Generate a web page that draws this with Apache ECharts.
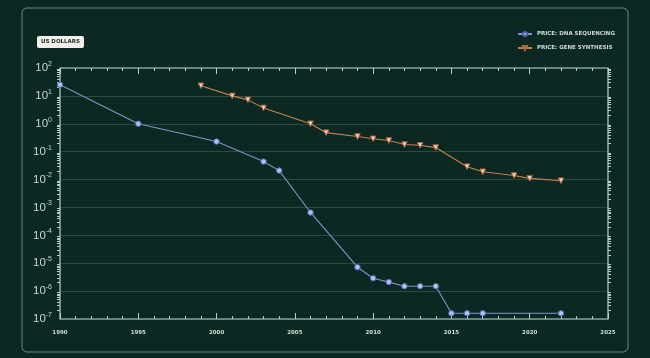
<!DOCTYPE html>
<html><head><meta charset="utf-8">
<script src="https://cdn.jsdelivr.net/npm/echarts@6/dist/echarts.min.js"></script>
<style>html,body{margin:0;padding:0;background:#0b2922;}#c{width:650px;height:358px;}</style>
</head><body><div id="c"></div>
<script>
const dnaYears = [1990, 1995, 2000, 2003, 2004, 2006, 2009, 2010, 2011, 2012, 2013, 2014, 2015, 2016, 2017, 2022];
const dnaPrice = [25, 1.0, 0.23, 0.044, 0.021, 0.00066, 0.0000072, 0.0000029, 0.0000021, 0.0000015, 0.0000015, 0.0000015, 0.00000016, 0.00000016, 0.00000016, 0.00000016];
const geneYears = [1999, 2001, 2002, 2003, 2006, 2007, 2009, 2010, 2011, 2012, 2013, 2014, 2016, 2017, 2019, 2020, 2022];
const genePrice = [23, 10, 7.2, 3.7, 1.0, 0.48, 0.35, 0.29, 0.25, 0.18, 0.17, 0.14, 0.029, 0.019, 0.014, 0.011, 0.0091];
const xTicks = [1990, 1995, 2000, 2005, 2010, 2015, 2020, 2025];
const seriesNames = ['PRICE: DNA SEQUENCING', 'PRICE: GENE SYNTHESIS'];
const unitLabel = 'US DOLLARS';

function expLabel(v){
  const e = Math.round(Math.log10(v));
  return '{b|10}{s|' + String(e) + '}';
}
const axisCol = '#b9cfc4';
const gridCol = 'rgba(110,170,150,0.28)';
const chart = echarts.init(document.getElementById('c'), null, {renderer:'canvas'});
chart.setOption({
  backgroundColor: '#0b2922',
  animation: false,
  graphic: [
    {type:'rect', shape:{x:22, y:8, width:606, height:344, r:5}, style:{fill:'none', stroke:'rgba(190,215,205,0.55)', lineWidth:1}},
    {type:'group', left:37, top:36, children:[
      {type:'rect', shape:{x:0,y:0,width:47,height:12,r:2}, style:{fill:'#f1f1ea'}},
      {type:'text', x:23.5, y:6, style:{text:unitLabel, fill:'#1d2b26', font:'bold 5.5px "DejaVu Sans"', align:'center', verticalAlign:'middle'}}
    ]}
  ],
  legend: {
    orient:'vertical', left:512, top:26, itemWidth:14, itemHeight:5, itemGap:8,
    textStyle:{color:'#cfdcd5', fontSize:5.5, fontWeight:'bold', fontFamily:'DejaVu Sans'},
    data: seriesNames
  },
  grid: {left:60, right:42, top:68, bottom:39, show:true, borderColor:'#c0d4ca', borderWidth:1.2},
  xAxis: [{
    type:'value', min:1990, max:2025, interval:5,
    axisLine:{show:false},
    axisTick:{show:true, inside:true, length:6, lineStyle:{color:axisCol}},
    minorTick:{show:true, splitNumber:5, length:3, lineStyle:{color:axisCol}},
    splitLine:{show:false},
    axisLabel:{color:'#d0ddd6', fontSize:5.5, fontWeight:'bold', fontFamily:'DejaVu Sans', margin:11,
      formatter:function(v){return xTicks.indexOf(v)>=0 ? String(v) : '';}}
  },{
    type:'value', position:'top', min:1990, max:2025, interval:5,
    axisLine:{show:false},
    axisTick:{show:true, inside:true, length:6, lineStyle:{color:axisCol}},
    minorTick:{show:true, splitNumber:5, length:3, lineStyle:{color:axisCol}},
    splitLine:{show:false}, axisLabel:{show:false}
  }],
  yAxis: [{
    type:'log', logBase:10, min:1e-7, max:100,
    axisLine:{show:false},
    axisTick:{show:false},
    minorTick:{show:true, splitNumber:9, length:3, lineStyle:{color:axisCol}},
    splitLine:{show:true, lineStyle:{color:gridCol, width:1}},
    axisLabel:{color:'#c8d8d0', margin:8, formatter:expLabel,
      rich:{b:{fontSize:11.5, color:'#c8d8d0', fontFamily:'Liberation Sans'}, s:{fontSize:7, color:'#c8d8d0', fontFamily:'Liberation Sans', verticalAlign:'top', padding:[0,0,8,0]}}}
  },{
    type:'log', logBase:10, min:1e-7, max:100, position:'right',
    axisLine:{show:false}, axisTick:{show:false},
    minorTick:{show:true, splitNumber:9, length:3, lineStyle:{color:axisCol}},
    splitLine:{show:false}, axisLabel:{show:false}
  }],
  series: [{
    name: seriesNames[0], type:'line', xAxisIndex:0, yAxisIndex:0,
    data: dnaYears.map((y,i)=>[y, dnaPrice[i]]),
    lineStyle:{color:'#8592cc', width:1.1},
    itemStyle:{color:'#b6c0ee', borderColor:'#5563ad', borderWidth:1},
    symbol:'circle', symbolSize:5.5
  },{
    name: seriesNames[1], type:'line', xAxisIndex:0, yAxisIndex:0,
    data: geneYears.map((y,i)=>[y, genePrice[i]]),
    lineStyle:{color:'#c4804f', width:1.1},
    itemStyle:{color:'#ead9c8', borderColor:'#b0623a', borderWidth:1},
    symbol:'triangle', symbolRotate:180, symbolSize:5.5
  }]
});
</script></body></html>
